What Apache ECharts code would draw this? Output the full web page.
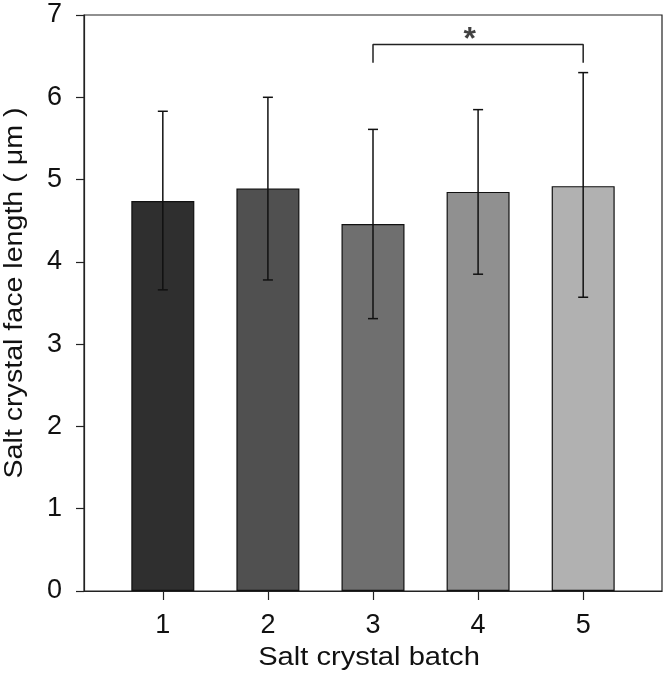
<!DOCTYPE html>
<html>
<head>
<meta charset="utf-8">
<script src="https://cdn.jsdelivr.net/npm/echarts@6/dist/echarts.min.js"></script>
<style>html,body{margin:0;padding:0;background:#fff}#c{width:666px;height:677px}</style>
</head>
<body>
<div id="c"></div>
<script>
var batches = [1, 2, 3, 4, 5];
var means = [4.74, 4.89, 4.46, 4.85, 4.92];
var errUpper = [5.83, 6.00, 5.61, 5.85, 6.30];
var errLower = [3.66, 3.78, 3.31, 3.85, 3.57];
var barColors = ['#2f2f2f', '#505050', '#6f6f6f', '#909090', '#b1b1b1'];
var yTicks = [0, 1, 2, 3, 4, 5, 6, 7];
var bracketPts = [[3, 6.42], [3, 6.64], [5, 6.64], [5, 6.42]];
var starPt = [3.92, 6.69];

var chart = echarts.init(document.getElementById('c'), null, {renderer: 'canvas'});
var font = 'Liberation Sans, Arial, sans-serif';

var barData = batches.map(function (b, i) {
  return {value: [b, means[i]], itemStyle: {color: barColors[i]}};
});
var errData = batches.map(function (b, i) { return [b, errLower[i], errUpper[i]]; });

chart.setOption({
  animation: false,
  grid: {left: 84, right: 4, top: 15, bottom: 86, show: true, borderColor: '#222', borderWidth: 1.2, backgroundColor: 'transparent'},
  xAxis: {
    type: 'value', min: 0.25, max: 5.75,
    splitLine: {show: false},
    axisLine: {lineStyle: {color: '#222', width: 1.2}},
    axisTick: {show: true, length: 9, customValues: batches, lineStyle: {color: '#222', width: 1.2}},
    axisLabel: {customValues: batches, margin: 21, fontSize: 27, color: '#111', fontFamily: font}
  },
  yAxis: {
    type: 'value', min: 0, max: 7, interval: 1,
    splitLine: {show: false},
    axisLine: {show: true, lineStyle: {color: '#222', width: 1.2}},
    axisTick: {show: true, length: 8, lineStyle: {color: '#222', width: 1.2}},
    axisLabel: {margin: 22, fontSize: 27, color: '#111', fontFamily: font,
      formatter: function (v) { return yTicks.indexOf(v) >= 0 ? String(v) : ''; }}
  },
  graphic: [
    {type: 'text', position: [369, 658], scaleX: 1.12, style: {text: 'Salt crystal batch', fill: '#111', font: '26px ' + font, textAlign: 'center', textVerticalAlign: 'middle'}},
    {type: 'text', position: [15, 293], rotation: Math.PI / 2, scaleX: 1.1, style: {text: 'Salt crystal face length ( \u03bcm )', fill: '#111', font: '26px ' + font, textAlign: 'center', textVerticalAlign: 'middle'}}
  ],
  series: [
    {
      type: 'bar', data: barData, barWidth: 63,
      itemStyle: {borderColor: '#111', borderWidth: 1.2}
    },
    {
      type: 'custom', data: errData, z: 5,
      renderItem: function (params, api) {
        var x = api.value(0);
        var lo = api.coord([x, api.value(1)]);
        var hi = api.coord([x, api.value(2)]);
        var hw = 5;
        var st = {stroke: '#111', lineWidth: 1.5};
        return {type: 'group', children: [
          {type: 'line', shape: {x1: lo[0], y1: lo[1], x2: hi[0], y2: hi[1]}, style: st},
          {type: 'line', shape: {x1: hi[0] - hw, y1: hi[1], x2: hi[0] + hw, y2: hi[1]}, style: st},
          {type: 'line', shape: {x1: lo[0] - hw, y1: lo[1], x2: lo[0] + hw, y2: lo[1]}, style: st}
        ]};
      }
    },
    {
      type: 'line', data: bracketPts, symbol: 'none', z: 5,
      lineStyle: {color: '#222', width: 1.5}
    },
    {
      type: 'scatter', data: [starPt], symbolSize: 0, z: 6,
      label: {show: true, position: 'inside', formatter: '*', fontSize: 32, fontWeight: 'bold', color: '#111', fontFamily: font}
    }
  ]
});
</script>
</body>
</html>
